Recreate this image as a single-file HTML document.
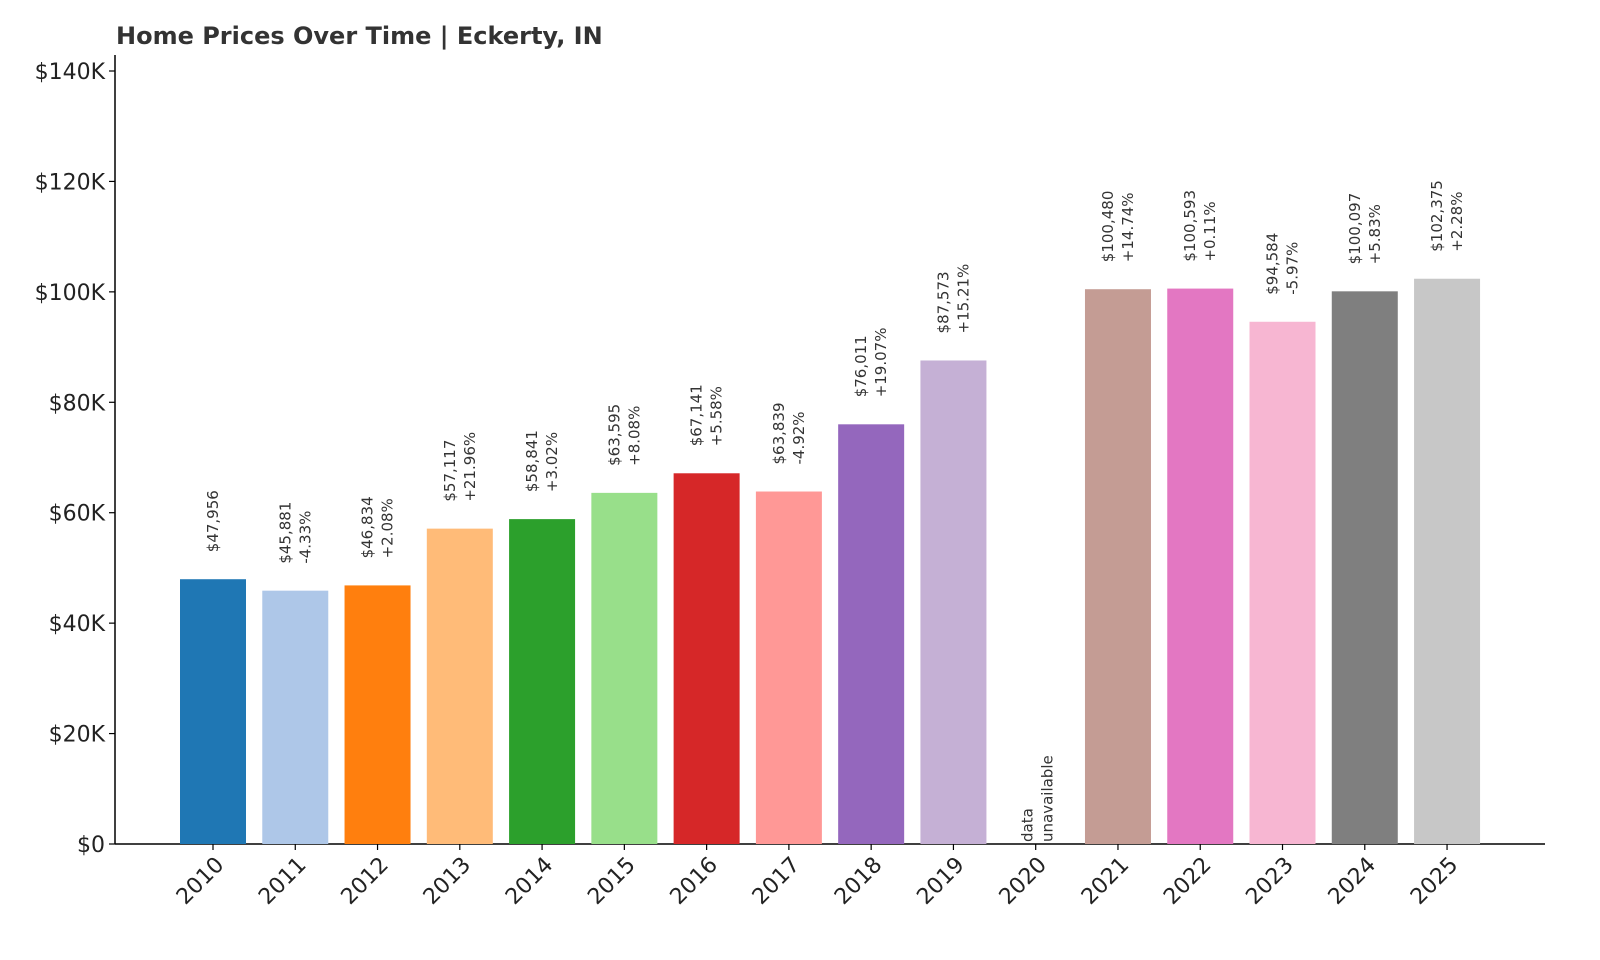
<!DOCTYPE html>
<html><head><meta charset="utf-8"><style>
html,body{margin:0;padding:0;background:#fff;}
svg{display:block;font-family:"DejaVu Sans","Liberation Sans",sans-serif;}
</style></head><body>
<svg id="chart" width="1600" height="960">
<text x="116" y="44" font-size="24" font-weight="bold" fill="#333">Home Prices Over Time | Eckerty, IN</text>
<g id="axes"></g><g id="bars"></g>
</svg>
<script>
const years=["2010","2011","2012","2013","2014","2015","2016","2017","2018","2019","2020","2021","2022","2023","2024","2025"];
const values=[47956,45881,46834,57117,58841,63595,67141,63839,76011,87573,null,100480,100593,94584,100097,102375];
const changes=[null,"-4.33%","+2.08%","+21.96%","+3.02%","+8.08%","+5.58%","-4.92%","+19.07%","+15.21%",null,"+14.74%","+0.11%","-5.97%","+5.83%","+2.28%"];
const colors=["#1f77b4","#aec7e8","#ff7f0e","#ffbb78","#2ca02c","#98df8a","#d62728","#ff9896","#9467bd","#c5b0d5","#8c564b","#c49c94","#e377c2","#f7b6d2","#7f7f7f","#c7c7c7"];
const yTicks=[0,20000,40000,60000,80000,100000,120000,140000];
const yTickLabels=["$0","$20K","$40K","$60K","$80K","$100K","$120K","$140K"];
const NS="http://www.w3.org/2000/svg";
const y0=844,yPer=(844-71)/140000;
const y=v=>y0-v*yPer;
const x=i=>213+i*82.27;
const axes=document.getElementById('axes'),bars=document.getElementById('bars');
function mk(tag,attrs,parent,txt){const e=document.createElementNS(NS,tag);for(const k in attrs)e.setAttribute(k,attrs[k]);if(txt!=null)e.textContent=txt;parent.appendChild(e);return e;}
let l=mk('line',{x1:115,y1:55,x2:115,y2:844,stroke:'#000','stroke-width':1.5},axes);


l=mk('line',{x1:115,y1:844,x2:1545,y2:844,stroke:'#000','stroke-width':1.5},axes);


yTicks.forEach((v,i)=>{
 const t=mk('line',{x1:109,y1:y(v),x2:115,y2:y(v),stroke:'#000','stroke-width':1.2},axes);
 
 
 const tx=mk('text',{x:105,y:y(v)+8,'font-size':22,'text-anchor':'end',fill:'#222'},axes,yTickLabels[i]);
 
 
});
years.forEach((yr,i)=>{
 const cx=x(i);
 const t=mk('line',{x1:cx,y1:844,x2:cx,y2:850,stroke:'#000','stroke-width':1.2},axes);
 
 
 const tx=mk('text',{x:0,y:0,'font-size':22,'text-anchor':'end',fill:'#222',transform:`translate(${cx+12},${866}) rotate(-45)`},axes,yr);
 
 
 const v=values[i];
 if(v==null){
  const g=mk('text',{x:0,y:0,'font-size':15,fill:'#333',transform:`translate(${cx+2},${842}) rotate(-90)`},bars);
  
  
  mk('tspan',{x:0,dy:-5},g,'data');
  mk('tspan',{x:0,dy:20},g,'unavailable');
  return;
 }
 const r=mk('rect',{x:cx-33,y:y(v),width:66,height:y0-y(v),fill:colors[i]},bars);
 
 
 const lb=y(v)-27;
 const txt='$'+v.toLocaleString('en-US');
 if(changes[i]==null){
  const e=mk('text',{x:0,y:0,'font-size':15,fill:'#333',transform:`translate(${cx+5},${lb}) rotate(-90)`},bars,txt);
  
  
 }else{
  const g=mk('text',{x:0,y:0,'font-size':15,fill:'#333',transform:`translate(${cx+5},${lb}) rotate(-90)`},bars);
  
  
  mk('tspan',{x:0,dy:-10},g,txt);
  mk('tspan',{x:0,dy:20},g,changes[i]);
 }
});
</script>
</body></html>
